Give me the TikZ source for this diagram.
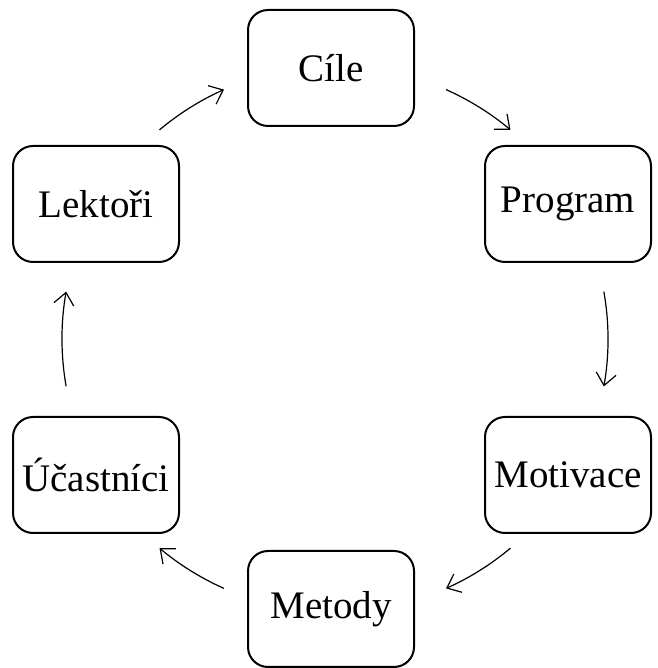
\documentclass[tikz,border=0pt]{standalone}
\usepackage{fontspec}
\setmainfont{Liberation Serif}
\usetikzlibrary{arrows.meta}
\begin{document}
\begin{tikzpicture}[x=1pt,y=1pt,
  stepbox/.style={draw, line width=2pt, rounded corners=20pt, minimum width=166pt, minimum height=116pt, inner sep=0pt, font=\fontsize{39}{45}\selectfont},
  arr/.style={line width=1.2pt, -{Straight Barb[length=12pt,width=20pt,line width=1.2pt]}}]
\useasboundingbox (0,0) rectangle (657,668);
\node[stepbox] (cile) at (331,600) {Cíle};
\node[stepbox] (program) at (568,464) {Program};
\node[stepbox] (motivace) at (568,193) {Motivace};
\node[stepbox] (metody) at (331,59) {Metody};
\node[stepbox] (ucastnici) at (96,193) {Účastníci};
\node[stepbox] (lektori) at (96,464) {Lektoři};
\coordinate (c) at (335,329);
\draw[arr] ([shift={(c)}]66:273) arc[start angle=66, end angle=50, radius=273];
\draw[arr] ([shift={(c)}]10:273) arc[start angle=10, end angle=-10, radius=273];
\draw[arr] ([shift={(c)}]-50:273) arc[start angle=-50, end angle=-66, radius=273];
\draw[arr] ([shift={(c)}]-114:273) arc[start angle=-114, end angle=-130, radius=273];
\draw[arr] ([shift={(c)}]190:273) arc[start angle=190, end angle=170, radius=273];
\draw[arr] ([shift={(c)}]130:273) arc[start angle=130, end angle=114, radius=273];
\end{tikzpicture}
\end{document}
